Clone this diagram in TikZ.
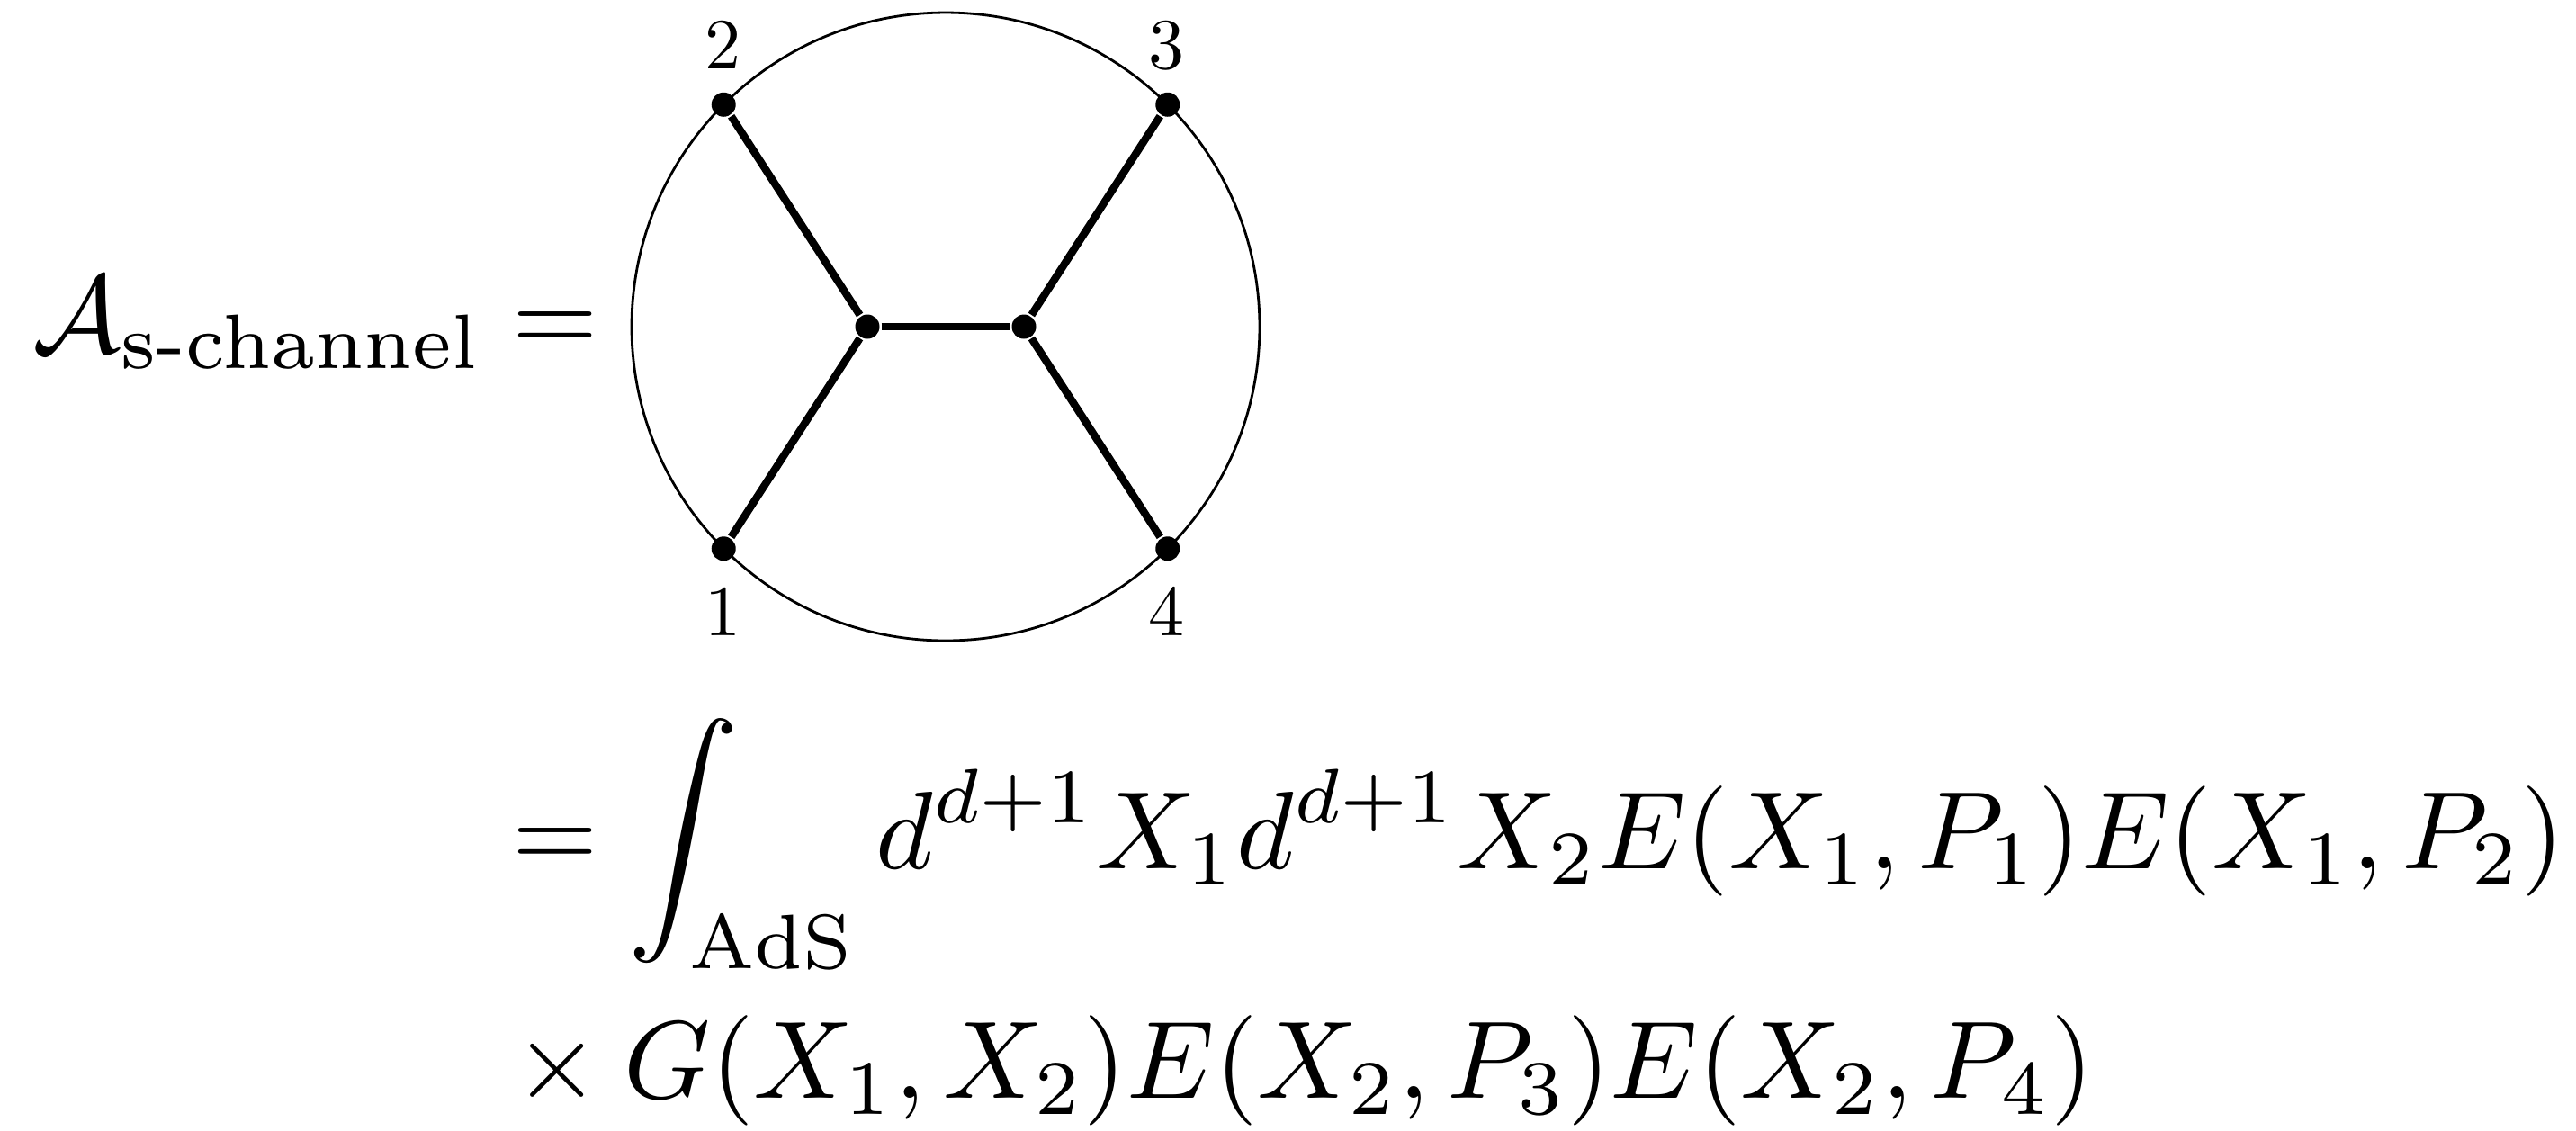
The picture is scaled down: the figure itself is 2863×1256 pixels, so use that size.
\documentclass[tikz,border=0pt]{standalone}
\usepackage{amsmath}
\usepackage{graphicx}
\usetikzlibrary{calc}
\newcommand{\bigeq}[1]{\scalebox{1.225}{#1}}
\newcommand{\smlab}[1]{\scalebox{0.8}{#1}}
\begin{document}
\begin{tikzpicture}[x=0.1pt,y=-0.1pt]
\tikzset{
  eq/.style={inner sep=0pt},
  lab/.style={inner sep=0pt},
  vtx/.style={circle, fill=black, inner sep=0pt, minimum size=2.7pt},
  prop/.style={line width=0.85pt},
  bdry/.style={line width=0.28pt}
}
\useasboundingbox (0,0) rectangle (2863,1256);
% boundary circle
\coordinate (c) at (1051,363);
\draw[bdry] (c) circle [radius=34.9pt];
% vertices
\node[vtx] (p2) at ($(c)+(135:34.9pt)$) {};
\node[vtx] (p3) at ($(c)+(45:34.9pt)$) {};
\node[vtx] (p1) at ($(c)+(225:34.9pt)$) {};
\node[vtx] (p4) at ($(c)+(315:34.9pt)$) {};
\node[vtx] (x1) at (964,363) {};
\node[vtx] (x2) at (1138,363) {};
\draw[prop] (p1) -- (x1);
\draw[prop] (p2) -- (x1);
\draw[prop] (x1) -- (x2);
\draw[prop] (x2) -- (p3);
\draw[prop] (x2) -- (p4);
% labels
\node[lab, anchor=base] (l2) at (803,76) {\smlab{2}};
\node[lab, anchor=base] (l3) at (1296,76) {\smlab{3}};
\node[lab, anchor=base] (l1) at (803,706) {\smlab{1}};
\node[lab, anchor=base] (l4) at (1296,706) {\smlab{4}};
% equation
\node[eq, anchor=base east] (lhs) at (538,391) {\bigeq{$\mathcal{A}_{\text{s-channel}}$}};
\node[eq, anchor=base west] (eqa) at (567,391) {\bigeq{$=$}};
\node[eq, anchor=base west] (line2) at (567,965) {\bigeq{$\displaystyle = \int_{\mathrm{AdS}} d^{d+1}X_1 d^{d+1}X_2 E(X_1,P_1)E(X_1,P_2)$}};
\node[eq, anchor=base west] (line3) at (542,1220) {\bigeq{$\displaystyle {}\times G(X_1,X_2)E(X_2,P_3)E(X_2,P_4)$}};
\end{tikzpicture}
\end{document}
